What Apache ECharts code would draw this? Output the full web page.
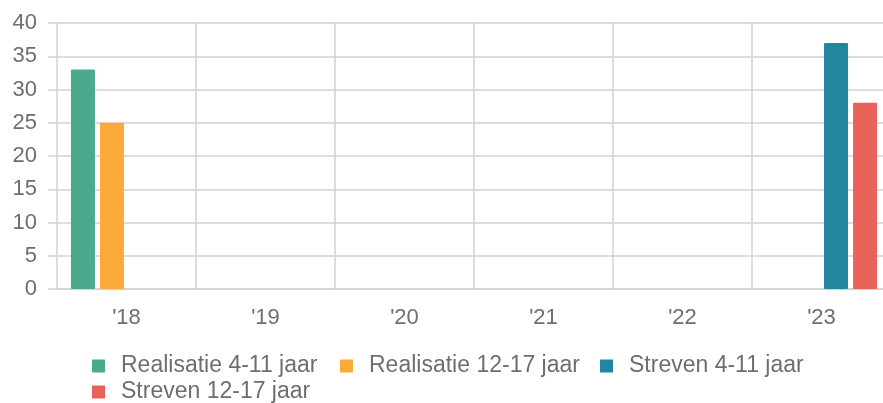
<!DOCTYPE html>
<html>
<head>
<meta charset="utf-8">
<script src="https://cdn.jsdelivr.net/npm/echarts@6/dist/echarts.min.js"></script>
<style>
  html, body { margin: 0; padding: 0; background: #fff; overflow: hidden; }
  /* the original plot runs a few px past the right edge of the picture */
  #chart { width: 892px; height: 403px; }
</style>
</head>
<body>
<div id="chart"></div>
<script>
const categories = ["'18", "'19", "'20", "'21", "'22", "'23"]
const seriesNames = ['Realisatie 4-11 jaar', 'Realisatie 12-17 jaar', 'Streven 4-11 jaar', 'Streven 12-17 jaar']
const realisatie411 = [33, null, null, null, null, null]
const realisatie1217 = [25, null, null, null, null, null]
const streven411 = [null, null, null, null, null, 37]
const streven1217 = [null, null, null, null, null, 28]
const yTicks = { min: 0, max: 40, interval: 5 }

const COLORS = ['#4aaa8e', '#fbaa38', '#22869e', '#e8625a']
const FONT = '"Liberation Sans", Arial, sans-serif'
const TEXT = '#6e6e6e'
const LINE = '#d2d2d2'

// legend placement (one legend per item so the wrap matches the original)
const LEGEND_POS = [[92, 353], [340, 353], [600, 353], [92, 379]]

function bar(name, data) {
  return {
    name, type: 'bar', data,
    barWidth: 24, barGap: '21%',
    itemStyle: { borderRadius: 1 }
  }
}

const chart = echarts.init(document.getElementById('chart'))
chart.setOption({
  animation: false,
  color: COLORS,
  textStyle: { fontFamily: FONT },
  grid: { left: 57, right: 1, top: 23, bottom: 114 },
  legend: seriesNames.map((n, i) => ({
    data: [n],
    left: LEGEND_POS[i][0], top: LEGEND_POS[i][1],
    padding: 0,
    itemWidth: 13, itemHeight: 13,
    icon: 'rect',
    textStyle: { color: TEXT, fontSize: 23, lineHeight: 26, fontFamily: FONT, padding: [0, 0, 0, 11] }
  })),
  xAxis: {
    type: 'category', data: categories,
    axisLine: { lineStyle: { color: LINE, width: 1.5 } },
    axisTick: { length: 8, lineStyle: { color: LINE, width: 1.5 } },
    splitLine: { show: true, lineStyle: { color: LINE, width: 1.5 } },
    axisLabel: { color: TEXT, fontSize: 22, margin: 18, fontFamily: FONT }
  },
  yAxis: {
    type: 'value', min: yTicks.min, max: yTicks.max, interval: yTicks.interval,
    axisLine: { show: false },
    axisTick: { show: true, length: 9, lineStyle: { color: LINE, width: 1.5 } },
    splitLine: { lineStyle: { color: LINE, width: 1.5 } },
    axisLabel: { color: TEXT, fontSize: 22, margin: 20, fontFamily: FONT }
  },
  series: [
    bar(seriesNames[0], realisatie411),
    bar(seriesNames[1], realisatie1217),
    bar(seriesNames[2], streven411),
    bar(seriesNames[3], streven1217)
  ]
})
</script>
</body>
</html>
